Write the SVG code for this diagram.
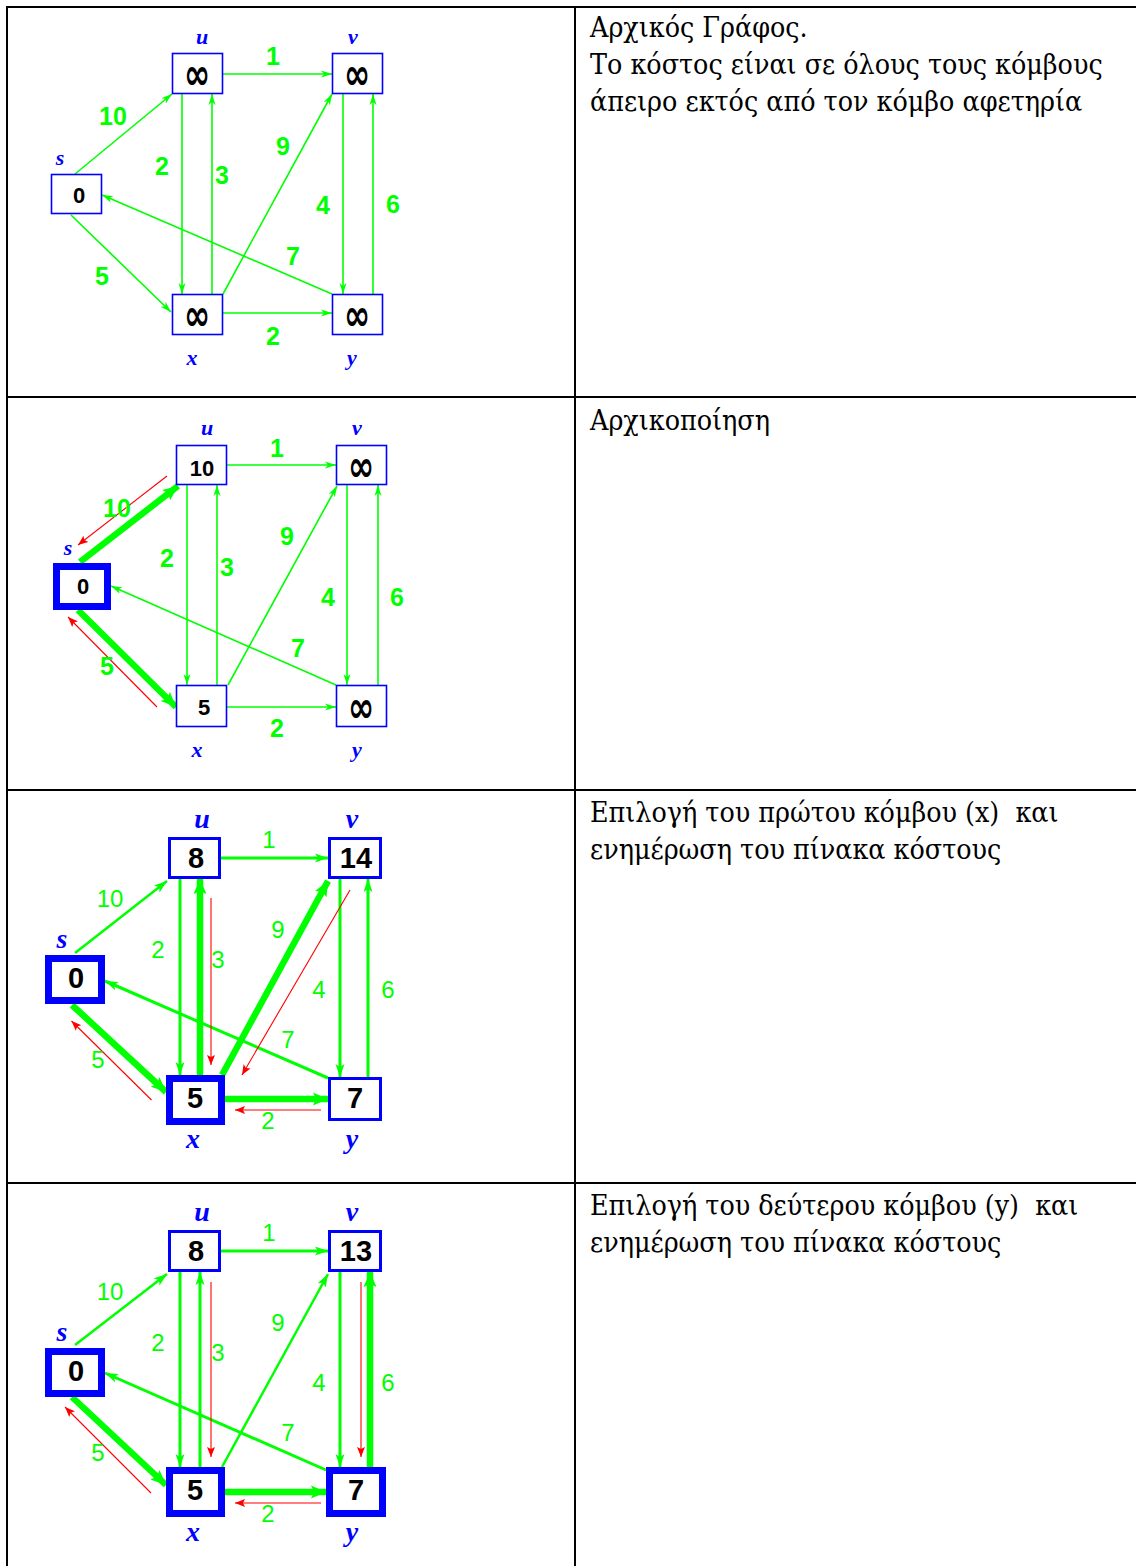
<svg xmlns="http://www.w3.org/2000/svg" width="1136" height="1566" viewBox="0 0 1136 1566">
  <style>
    .tbl { stroke: #000; stroke-width: 2; fill: none; }
    .box { fill: #fff; stroke: #00f; stroke-width: 1.6; }
    .bm { stroke-width: 3; }
    .bt { stroke-width: 7; }
    .e { stroke: #00ff00; fill: none; stroke-width: 1.6; marker-end: url(#ga); }
    .e2 { stroke-width: 2.5; marker-end: url(#gb); }
    .e3 { stroke-width: 3; marker-end: url(#gb); }
    .et { stroke-width: 6.5; marker-end: url(#gt); }
    .r { stroke: #ff0000; stroke-width: 1.1; fill: none; marker-end: url(#ra); }
    .w { fill: #00ff00; font-family: "Liberation Sans", Arial, sans-serif; font-weight: bold; font-size: 25px; text-anchor: middle; }
    .w2 { fill: #00ff00; font-family: "Liberation Sans", Arial, sans-serif; font-size: 24px; text-anchor: middle; }
    .n { fill: #00f; font-family: "Liberation Serif", serif; font-style: italic; font-weight: bold; font-size: 22px; text-anchor: middle; }
    .n2 { font-size: 28px; }
    .v { fill: #000; font-family: "Liberation Sans", Arial, sans-serif; font-weight: bold; font-size: 22px; text-anchor: middle; }
    .v2 { font-size: 29px; }
    .inf { fill: #000; font-family: "DejaVu Sans", sans-serif; font-weight: bold; font-size: 30px; text-anchor: middle; dominant-baseline: central; }
    .cap { fill: #000; font-family: "DejaVu Serif Condensed", "DejaVu Serif", serif; font-stretch: condensed; font-size: 28.3px; white-space: pre; }
  </style>
  <defs>
    <marker id="ga" markerUnits="userSpaceOnUse" markerWidth="12" markerHeight="8" refX="11" refY="4" orient="auto">
      <path d="M0,0.5 L11,4 L0,7.5 L3,4 Z" fill="#00ff00"/>
    </marker>
    <marker id="gb" markerUnits="userSpaceOnUse" markerWidth="14" markerHeight="10" refX="13" refY="5" orient="auto">
      <path d="M0,0.5 L13,5 L0,9.5 L3,5 Z" fill="#00ff00"/>
    </marker>
    <marker id="gt" markerUnits="userSpaceOnUse" markerWidth="16" markerHeight="14" refX="15" refY="7" orient="auto">
      <path d="M0,0.5 L15,7 L0,13.5 L3,7 Z" fill="#00ff00"/>
    </marker>
    <marker id="ra" markerUnits="userSpaceOnUse" markerWidth="11" markerHeight="9" refX="10" refY="4.5" orient="auto">
      <path d="M0,0.5 L10,4.5 L0,8.5 L2,4.5 Z" fill="#ff0000"/>
    </marker>
  </defs>

  <!-- table grid -->
  <g id="table">
    <line class="tbl" x1="6" y1="7" x2="1136" y2="7"/>
    <line class="tbl" x1="6" y1="397" x2="1136" y2="397"/>
    <line class="tbl" x1="6" y1="790" x2="1136" y2="790"/>
    <line class="tbl" x1="6" y1="1183" x2="1136" y2="1183"/>
    <line class="tbl" x1="7" y1="6" x2="7" y2="1566"/>
    <line class="tbl" x1="575" y1="6" x2="575" y2="1566"/>
  </g>

  <!-- captions -->
  <g id="captions">
    <text class="cap" x="590" y="37">Αρχικός Γράφος.</text>
    <text class="cap" x="590" y="74">Το κόστος είναι σε όλους τους κόμβους</text>
    <text class="cap" x="590" y="111">άπειρο εκτός από τον κόμβο αφετηρία</text>
    <text class="cap" x="590" y="430">Αρχικοποίηση</text>
    <text class="cap" x="590" y="822">Επιλογή του πρώτου κόμβου (x)  και</text>
    <text class="cap" x="590" y="859">ενημέρωση του πίνακα κόστους</text>
    <text class="cap" x="590" y="1215">Επιλογή του δεύτερου κόμβου (y)  και</text>
    <text class="cap" x="590" y="1252">ενημέρωση του πίνακα κόστους</text>
  </g>

  <!-- ===== graph 1: initial graph ===== -->
  <g id="g1-edges">
    <line class="e" x1="223" y1="74" x2="332" y2="74"/>
    <line class="e" x1="75" y1="174" x2="172" y2="94"/>
    <line class="e" x1="71" y1="215" x2="171" y2="312"/>
    <line class="e" x1="182" y1="94" x2="182" y2="294"/>
    <line class="e" x1="212" y1="294" x2="212" y2="94"/>
    <line class="e" x1="223" y1="294" x2="332" y2="94"/>
    <line class="e" x1="343" y1="94" x2="343" y2="294"/>
    <line class="e" x1="373" y1="294" x2="373" y2="94"/>
    <line class="e" x1="332" y1="294" x2="102" y2="195"/>
    <line class="e" x1="223" y1="313" x2="332" y2="313"/>
    <text class="w" x="273" y="65">1</text>
    <text class="w" x="113" y="125">10</text>
    <text class="w" x="162" y="175">2</text>
    <text class="w" x="222" y="184">3</text>
    <text class="w" x="283" y="155">9</text>
    <text class="w" x="323" y="214">4</text>
    <text class="w" x="393" y="213">6</text>
    <text class="w" x="293" y="265">7</text>
    <text class="w" x="102" y="285">5</text>
    <text class="w" x="273" y="345">2</text>
  </g>
  <g id="g1-s"><rect class="box" x="51.5" y="174.5" width="50" height="39"/><text class="v" x="79" y="203">0</text><text class="n" x="60" y="165">s</text></g>
  <g id="g1-u"><rect class="box" x="172.5" y="53.5" width="50" height="40"/><text class="inf" transform="translate(197,74) scale(1.05,1.45)">∞</text><text class="n" x="202" y="44">u</text></g>
  <g id="g1-v"><rect class="box" x="332.5" y="53.5" width="50" height="40"/><text class="inf" transform="translate(357,74) scale(1.05,1.45)">∞</text><text class="n" x="353" y="44">v</text></g>
  <g id="g1-x"><rect class="box" x="172.5" y="294.5" width="50" height="40"/><text class="inf" transform="translate(197,315) scale(1.05,1.45)">∞</text><text class="n" x="192" y="365">x</text></g>
  <g id="g1-y"><rect class="box" x="332.5" y="294.5" width="50" height="40"/><text class="inf" transform="translate(357,315) scale(1.05,1.45)">∞</text><text class="n" x="352" y="365">y</text></g>

  <!-- ===== graph 2: initialisation ===== -->
  <g id="g2-edges">
    <line class="e" x1="227" y1="465" x2="336" y2="465"/>
    <line class="e et" x1="80" y1="562" x2="178" y2="486"/>
    <line class="e et" x1="78" y1="610" x2="176" y2="707"/>
    <line class="e" x1="187" y1="485" x2="187" y2="685"/>
    <line class="e" x1="217" y1="685" x2="217" y2="485"/>
    <line class="e" x1="228" y1="685" x2="337" y2="486"/>
    <line class="e" x1="347" y1="485" x2="347" y2="685"/>
    <line class="e" x1="378" y1="685" x2="378" y2="485"/>
    <line class="e" x1="336" y1="685" x2="111" y2="586"/>
    <line class="e" x1="227" y1="707" x2="336" y2="707"/>
    <path class="r" d="M167,476 L78,545"/>
    <path class="r" d="M157,707 L68,617"/>
    <text class="w" x="277" y="457">1</text>
    <text class="w" x="117" y="517">10</text>
    <text class="w" x="167" y="567">2</text>
    <text class="w" x="227" y="576">3</text>
    <text class="w" x="287" y="545">9</text>
    <text class="w" x="328" y="606">4</text>
    <text class="w" x="397" y="606">6</text>
    <text class="w" x="298" y="657">7</text>
    <text class="w" x="107" y="675">5</text>
    <text class="w" x="277" y="737">2</text>
  </g>
  <g id="g2-s"><rect class="box bt" x="56.5" y="566.5" width="51" height="40"/><text class="v" x="83" y="594">0</text><text class="n" x="68" y="555">s</text></g>
  <g id="g2-u"><rect class="box" x="176.5" y="445.5" width="50" height="39"/><text class="v" x="202" y="476">10</text><text class="n" x="207" y="435">u</text></g>
  <g id="g2-v"><rect class="box" x="336.5" y="445.5" width="50" height="39"/><text class="inf" transform="translate(361,466) scale(1.05,1.45)">∞</text><text class="n" x="357" y="435">v</text></g>
  <g id="g2-x"><rect class="box" x="176.5" y="685.5" width="50" height="41"/><text class="v" x="204" y="715">5</text><text class="n" x="197" y="757">x</text></g>
  <g id="g2-y"><rect class="box" x="336.5" y="685.5" width="50" height="41"/><text class="inf" transform="translate(361,707) scale(1.05,1.45)">∞</text><text class="n" x="357" y="757">y</text></g>

  <!-- ===== graph 3: node x selected ===== -->
  <g id="g3-edges">
    <line class="e e3" x1="221" y1="858" x2="328" y2="858"/>
    <line class="e e2" x1="75" y1="953" x2="167" y2="881"/>
    <line class="e et" x1="72" y1="1005" x2="166" y2="1092"/>
    <line class="e e3" x1="180" y1="879" x2="180" y2="1075"/>
    <line class="e et" x1="200" y1="1075" x2="200" y2="879"/>
    <line class="e et" x1="222" y1="1075" x2="328" y2="881"/>
    <line class="e e3" x1="340" y1="879" x2="340" y2="1077"/>
    <line class="e e3" x1="368" y1="1077" x2="368" y2="879"/>
    <line class="e e3" x1="328" y1="1078" x2="105" y2="981"/>
    <line class="e et" x1="225" y1="1099" x2="328" y2="1099"/>
    <path class="r" d="M211,898 L211,1065"/>
    <path class="r" d="M350,890 L242,1075"/>
    <path class="r" d="M321,1110 L235,1110"/>
    <path class="r" d="M151.5,1100 L71.5,1021"/>
    <text class="w2" x="269" y="848">1</text>
    <text class="w2" x="110" y="907">10</text>
    <text class="w2" x="158" y="958">2</text>
    <text class="w2" x="218" y="968">3</text>
    <text class="w2" x="278" y="938">9</text>
    <text class="w2" x="319" y="998">4</text>
    <text class="w2" x="388" y="998">6</text>
    <text class="w2" x="288" y="1048">7</text>
    <text class="w2" x="98" y="1068">5</text>
    <text class="w2" x="268" y="1129">2</text>
  </g>
  <g id="g3-s"><rect class="box bt" x="48.5" y="958.5" width="53" height="42"/><text class="v v2" x="76" y="988">0</text><text class="n n2" x="62" y="948">s</text></g>
  <g id="g3-u"><rect class="box bm" x="169.5" y="838.5" width="50" height="39"/><text class="v v2" x="196" y="868">8</text><text class="n n2" x="202" y="828">u</text></g>
  <g id="g3-v"><rect class="box bm" x="329.5" y="838.5" width="51" height="39"/><text class="v v2" x="356" y="868">14</text><text class="n n2" x="352" y="828">v</text></g>
  <g id="g3-x"><rect class="box bt" x="169.5" y="1078.5" width="52" height="43"/><text class="v v2" x="195" y="1108">5</text><text class="n n2" x="193" y="1148">x</text></g>
  <g id="g3-y"><rect class="box bm" x="329.5" y="1078.5" width="51" height="41"/><text class="v v2" x="355" y="1108">7</text><text class="n n2" x="352" y="1148">y</text></g>

  <!-- ===== graph 4: node y selected ===== -->
  <g id="g4-edges">
    <line class="e e3" x1="221" y1="1251" x2="328" y2="1251"/>
    <line class="e e2" x1="75" y1="1345" x2="167" y2="1274"/>
    <line class="e et" x1="72" y1="1397" x2="166" y2="1485"/>
    <line class="e e3" x1="180" y1="1272" x2="180" y2="1467"/>
    <line class="e e3" x1="200" y1="1467" x2="200" y2="1272"/>
    <line class="e e2" x1="222" y1="1467" x2="328" y2="1274"/>
    <line class="e e3" x1="340" y1="1272" x2="340" y2="1467"/>
    <line class="e et" x1="370" y1="1467" x2="370" y2="1272"/>
    <line class="e e3" x1="326" y1="1470" x2="105" y2="1373"/>
    <line class="e et" x1="225" y1="1492" x2="326" y2="1492"/>
    <path class="r" d="M211,1282 L211,1457"/>
    <path class="r" d="M361,1282 L361,1457"/>
    <path class="r" d="M321,1503 L235,1503"/>
    <path class="r" d="M151,1493 L65,1407"/>
    <text class="w2" x="269" y="1241">1</text>
    <text class="w2" x="110" y="1300">10</text>
    <text class="w2" x="158" y="1351">2</text>
    <text class="w2" x="218" y="1361">3</text>
    <text class="w2" x="278" y="1331">9</text>
    <text class="w2" x="319" y="1391">4</text>
    <text class="w2" x="388" y="1391">6</text>
    <text class="w2" x="288" y="1441">7</text>
    <text class="w2" x="98" y="1461">5</text>
    <text class="w2" x="268" y="1522">2</text>
  </g>
  <g id="g4-s"><rect class="box bt" x="48.5" y="1351.5" width="53" height="42"/><text class="v v2" x="76" y="1381">0</text><text class="n n2" x="62" y="1341">s</text></g>
  <g id="g4-u"><rect class="box bm" x="169.5" y="1231.5" width="50" height="39"/><text class="v v2" x="196" y="1261">8</text><text class="n n2" x="202" y="1221">u</text></g>
  <g id="g4-v"><rect class="box bm" x="329.5" y="1231.5" width="51" height="39"/><text class="v v2" x="356" y="1261">13</text><text class="n n2" x="352" y="1221">v</text></g>
  <g id="g4-x"><rect class="box bt" x="169.5" y="1470.5" width="52" height="43"/><text class="v v2" x="195" y="1500">5</text><text class="n n2" x="193" y="1541">x</text></g>
  <g id="g4-y"><rect class="box bt" x="329.5" y="1470.5" width="53" height="43"/><text class="v v2" x="356" y="1500">7</text><text class="n n2" x="352" y="1541">y</text></g>
</svg>
